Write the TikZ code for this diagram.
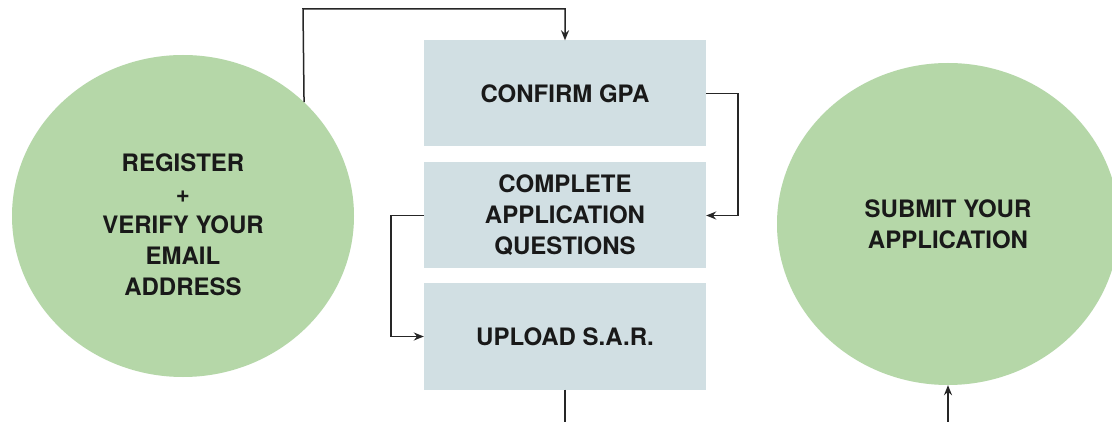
\documentclass[tikz,border=0pt]{standalone}
\usepackage{fontspec}
\setmainfont{TeX Gyre Heros}
\usetikzlibrary{shapes.geometric,arrows.meta,calc}
\definecolor{circgreen}{HTML}{B5D7A8}
\definecolor{boxblue}{HTML}{D1DFE3}
\definecolor{linegray}{HTML}{262626}
\tikzset{
  labeltext/.style={align=center, font=\fontsize{24}{31}\selectfont\bfseries, text=black!90},
  bigcirc/.style={ellipse, fill=circgreen, draw=none, minimum width=342pt, minimum height=322pt, inner sep=0pt, labeltext},
  stepbox/.style={rectangle, fill=boxblue, draw=none, minimum width=282pt, minimum height=106pt, inner sep=0pt, labeltext},
  conn/.style={draw=linegray, line width=1.5pt},
  arr/.style={conn, -{Stealth[length=10pt,width=8pt]}}
}
\begin{document}
\begin{tikzpicture}[x=1pt,y=-1pt]
\useasboundingbox (0,0) rectangle (1112,422);
\fill[white] (0,0) rectangle (1112,422);
\node[bigcirc] (L) at (183,216) {};
\node[labeltext] (Ltext) at (183,225) {REGISTER\\+\\VERIFY YOUR\\EMAIL\\ADDRESS};
\node[bigcirc] (R) at (948,224) {SUBMIT YOUR\\APPLICATION};
\node[stepbox] (B1) at (565,93.5) {CONFIRM GPA};
\node[stepbox] (B2) at (565,215.5) {COMPLETE\\APPLICATION\\QUESTIONS};
\node[stepbox] (B3) at (565,336.5) {UPLOAD S.A.R.};
\coordinate (top) at (303,9);
\coordinate (bot1) at (565,422);
\coordinate (bot2) at (948,422);
\draw[arr] (L.north east) -- (top) -| (B1.north);
\draw[arr] (B1.east) -- ++(32,0) |- (B2.east);
\draw[arr] (B2.west) -- ++(-33,0) |- (B3.west);
\draw[conn] (B3.south) -- (bot1);
\draw[arr] (bot2) -- (R.south);
\end{tikzpicture}
\end{document}
